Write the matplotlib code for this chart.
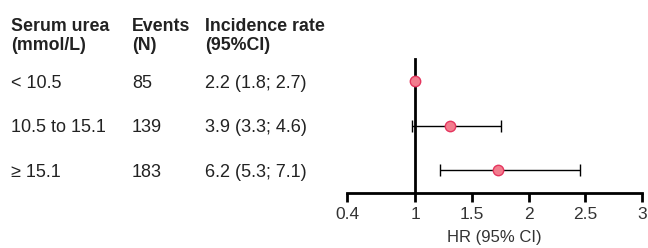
import matplotlib
matplotlib.use('Agg')
import matplotlib.pyplot as plt
import matplotlib.transforms as mtransforms

plt.rcParams['font.family'] = ['Liberation Sans', 'DejaVu Sans']

# data
groups = ['< 10.5', '10.5 to 15.1', '≥ 15.1']
events = ['85', '139', '183']
incidence = ['2.2 (1.8; 2.7)', '3.9 (3.3; 4.6)', '6.2 (5.3; 7.1)']
hr = [1.0, 1.31, 1.73]
hr_low = [None, 0.97, 1.22]
hr_high = [None, 1.76, 2.45]
xticks = [0.4, 1, 1.5, 2, 2.5, 3]
headers = [('Serum urea', '(mmol/L)'), ('Events', '(N)'), ('Incidence rate', '(95%CI)')]
col_x = [11 / 648, 132 / 648, 205 / 648]

fig = plt.figure(figsize=(6.48, 2.48), dpi=100)
ax = fig.add_axes([347 / 648, 1 - 192.5 / 248, 295 / 648, 133.5 / 248])

rows = list(range(len(groups)))
for i in rows:
    if hr_low[i] is not None:
        ax.errorbar(hr[i], i, xerr=[[hr[i] - hr_low[i]], [hr_high[i] - hr[i]]],
                    fmt='none', ecolor='black', elinewidth=1, capsize=4, capthick=1, zorder=2)
    ax.plot(hr[i], i, 'o', markersize=7.5, markerfacecolor='#f27d8e',
            markeredgecolor='#e5365f', markeredgewidth=1, zorder=3, clip_on=False)

ax.set_xlim(0.4, 3)
ax.set_ylim(2.5, -0.5)
ax.set_xticks(xticks)
ax.set_xticklabels(['0.4', '1', '1.5', '2', '2.5', '3'])
ax.set_yticks([])
ax.spines['top'].set_visible(False)
ax.spines['right'].set_visible(False)
ax.spines['left'].set_position(('data', 1))
ax.spines['left'].set_linewidth(2)
ax.spines['bottom'].set_linewidth(2)
ax.tick_params(axis='x', width=2, length=6.5, labelsize=12.5, pad=4, colors='black', labelcolor='#333333')
ax.set_xlabel('HR (95% CI)', fontsize=12, color='#333333', labelpad=6)
ax.patch.set_alpha(0)

# table text
trans = mtransforms.blended_transform_factory(fig.transFigure, ax.transData)
for i in rows:
    for x, txt in zip(col_x, [groups[i], events[i], incidence[i]]):
        ax.text(x, i, txt, transform=trans, fontsize=13, va='center_baseline',
                ha='left', color='#222222', clip_on=False)

for x, (h1, h2) in zip(col_x, headers):
    fig.text(x, 1 - 31 / 248, h1, fontsize=12.8, fontweight='bold', va='baseline', color='#222222')
    fig.text(x, 1 - 50 / 248, h2, fontsize=12.8, fontweight='bold', va='baseline', color='#222222')

fig.savefig('out.png', dpi=100)
